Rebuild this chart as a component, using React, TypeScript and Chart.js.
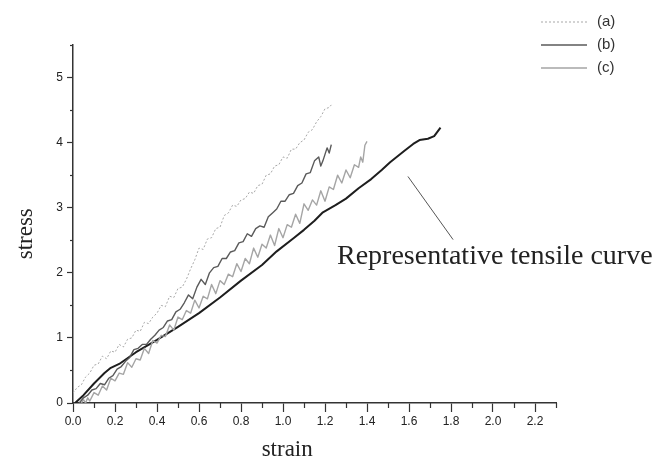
import React, { useEffect, useRef } from "react";
import { Chart, registerables } from "chart.js";

Chart.register(...registerables);

// ---- data ----
const repX = [0.01, 0.05, 0.1, 0.15, 0.18, 0.22, 0.3, 0.4, 0.5, 0.6, 0.7, 0.8, 0.9, 0.97, 1.05, 1.1, 1.15, 1.19, 1.25, 1.3, 1.36, 1.42, 1.47, 1.51, 1.58, 1.62, 1.65, 1.69, 1.72, 1.75];
const repY = [0, 0.12, 0.3, 0.46, 0.54, 0.6, 0.78, 0.97, 1.17, 1.38, 1.62, 1.88, 2.12, 2.33, 2.53, 2.66, 2.8, 2.93, 3.04, 3.14, 3.3, 3.44, 3.58, 3.7, 3.88, 3.98, 4.04, 4.06, 4.1, 4.23];

const aX = [0.0, 0.02, 0.04, 0.06, 0.08, 0.1, 0.12, 0.14, 0.16, 0.18, 0.2, 0.22, 0.24, 0.26, 0.28, 0.3, 0.32, 0.34, 0.36, 0.38, 0.4, 0.42, 0.44, 0.46, 0.48, 0.5, 0.52, 0.54, 0.56, 0.58, 0.6, 0.62, 0.64, 0.66, 0.68, 0.7, 0.72, 0.74, 0.76, 0.78, 0.8, 0.82, 0.84, 0.86, 0.88, 0.9, 0.92, 0.94, 0.96, 0.98, 1.0, 1.02, 1.04, 1.06, 1.08, 1.1, 1.12, 1.14, 1.16, 1.18, 1.2, 1.22, 1.23];
const aY = [0.15, 0.24, 0.28, 0.4, 0.46, 0.58, 0.6, 0.72, 0.68, 0.8, 0.78, 0.9, 0.86, 0.98, 1.0, 1.12, 1.1, 1.24, 1.22, 1.32, 1.38, 1.5, 1.48, 1.64, 1.62, 1.76, 1.78, 1.9, 2.06, 2.2, 2.38, 2.36, 2.52, 2.54, 2.68, 2.7, 2.88, 2.92, 3.04, 3.02, 3.12, 3.14, 3.24, 3.22, 3.34, 3.36, 3.5, 3.52, 3.64, 3.66, 3.78, 3.76, 3.9, 3.9, 4.0, 4.04, 4.16, 4.2, 4.32, 4.4, 4.52, 4.54, 4.58];

const bX = [0.03, 0.05, 0.07, 0.09, 0.11, 0.13, 0.15, 0.17, 0.19, 0.21, 0.23, 0.25, 0.27, 0.29, 0.31, 0.33, 0.35, 0.37, 0.39, 0.41, 0.43, 0.45, 0.47, 0.49, 0.51, 0.53, 0.55, 0.57, 0.59, 0.61, 0.63, 0.65, 0.67, 0.69, 0.71, 0.73, 0.75, 0.77, 0.79, 0.81, 0.83, 0.85, 0.87, 0.89, 0.91, 0.93, 0.95, 0.97, 0.99, 1.01, 1.03, 1.05, 1.07, 1.09, 1.11, 1.13, 1.15, 1.17, 1.18, 1.19, 1.2, 1.21, 1.22, 1.23];
const bY = [0.0, 0.08, 0.12, 0.2, 0.22, 0.3, 0.28, 0.38, 0.42, 0.52, 0.56, 0.64, 0.7, 0.82, 0.84, 0.9, 0.9, 0.98, 1.04, 1.12, 1.16, 1.26, 1.28, 1.4, 1.44, 1.54, 1.66, 1.6, 1.78, 1.9, 1.82, 2.0, 2.08, 2.1, 2.22, 2.22, 2.32, 2.34, 2.46, 2.48, 2.6, 2.56, 2.68, 2.72, 2.7, 2.86, 2.92, 2.98, 3.1, 3.1, 3.2, 3.22, 3.34, 3.38, 3.52, 3.54, 3.72, 3.78, 3.64, 3.72, 3.82, 3.92, 3.84, 3.97];

const cX = [0.04, 0.05, 0.06, 0.07, 0.08, 0.1, 0.12, 0.14, 0.16, 0.18, 0.2, 0.22, 0.24, 0.26, 0.28, 0.3, 0.32, 0.34, 0.36, 0.38, 0.4, 0.42, 0.44, 0.46, 0.48, 0.5, 0.52, 0.54, 0.56, 0.58, 0.6, 0.62, 0.64, 0.66, 0.68, 0.7, 0.72, 0.74, 0.76, 0.78, 0.8, 0.82, 0.84, 0.86, 0.88, 0.9, 0.92, 0.94, 0.96, 0.98, 1.0, 1.02, 1.04, 1.06, 1.08, 1.1, 1.12, 1.14, 1.16, 1.18, 1.2, 1.22, 1.24, 1.26, 1.28, 1.3, 1.32, 1.34, 1.36, 1.37, 1.38, 1.39, 1.4];
const cY = [0.0, 0.05, 0.0, 0.08, 0.03, 0.16, 0.12, 0.26, 0.2, 0.38, 0.34, 0.46, 0.44, 0.62, 0.55, 0.68, 0.66, 0.84, 0.76, 0.96, 0.92, 1.04, 1.02, 1.2, 1.12, 1.32, 1.28, 1.42, 1.38, 1.58, 1.46, 1.64, 1.6, 1.82, 1.68, 1.88, 1.82, 1.98, 1.94, 2.14, 2.02, 2.22, 2.14, 2.38, 2.24, 2.44, 2.38, 2.58, 2.42, 2.68, 2.54, 2.74, 2.7, 2.9, 2.76, 3.06, 2.96, 3.12, 3.04, 3.26, 3.1, 3.32, 3.28, 3.5, 3.38, 3.58, 3.46, 3.66, 3.62, 3.78, 3.7, 3.96, 4.02];

const seriesLabels = ["(a)", "(b)", "(c)"];
const xTickLabels = ["0.0", "0.2", "0.4", "0.6", "0.8", "1.0", "1.2", "1.4", "1.6", "1.8", "2.0", "2.2"];
const yTickLabels = ["0", "1", "2", "3", "4", "5"];
const xTitle = "strain";
const yTitle = "stress";
const noteText = "Representative tensile curve";
// leader line ends and text anchor, in data units
const noteLineFrom = [1.595, 3.48];
const noteLineTo = [1.81, 2.51];
const noteAnchor = [1.257, 2.25];

const pts = (xs: number[], ys: number[]) => xs.map((x, i) => ({ x, y: ys[i] }));

const SANS = '"Liberation Sans", Arial, sans-serif';
const SERIF = '"Liberation Serif", "Times New Roman", serif';

const decorPlugin = {
  id: "decor",
  afterDraw(chart: any) {
    const { ctx, chartArea, scales } = chart;
    const xs = scales.x;
    const ys = scales.y;
    ctx.save();
    // minor ticks
    ctx.strokeStyle = "#333";
    ctx.lineWidth = 1.2;
    xs.ticks.forEach((t: any, i: number) => {
      if (i % 2 === 1) {
        const px = Math.round(xs.getPixelForValue(t.value)) + 0.5;
        ctx.beginPath();
        ctx.moveTo(px, chartArea.bottom);
        ctx.lineTo(px, chartArea.bottom + 5);
        ctx.stroke();
      }
    });
    ys.ticks.forEach((t: any, i: number) => {
      if (i % 2 === 1) {
        const py = Math.round(ys.getPixelForValue(t.value)) + 0.5;
        ctx.beginPath();
        ctx.moveTo(chartArea.left - 3, py);
        ctx.lineTo(chartArea.left, py);
        ctx.stroke();
      }
    });
    // annotation
    ctx.strokeStyle = "#555";
    ctx.lineWidth = 1;
    ctx.beginPath();
    ctx.moveTo(xs.getPixelForValue(noteLineFrom[0]), ys.getPixelForValue(noteLineFrom[1]));
    ctx.lineTo(xs.getPixelForValue(noteLineTo[0]), ys.getPixelForValue(noteLineTo[1]));
    ctx.stroke();
    ctx.fillStyle = "#222";
    ctx.font = `28px ${SERIF}`;
    ctx.textAlign = "left";
    ctx.textBaseline = "middle";
    ctx.fillText(noteText, xs.getPixelForValue(noteAnchor[0]), ys.getPixelForValue(noteAnchor[1]));
    // axis titles
    ctx.font = `23px ${SERIF}`;
    ctx.textAlign = "center";
    ctx.fillText(xTitle, xs.getPixelForValue(1.02), chartArea.bottom + 47);
    ctx.save();
    ctx.translate(26, ys.getPixelForValue(2.6));
    ctx.rotate(-Math.PI / 2);
    ctx.fillText(yTitle, 0, 0);
    ctx.restore();
    // legend
    const legendX = chartArea.right - 15;
    chart.data.datasets.forEach((ds: any, i: number) => {
      if (!ds.label) return;
      const y = 22 + i * 23;
      ctx.strokeStyle = ds.borderColor;
      ctx.lineWidth = ds.borderWidth;
      ctx.setLineDash(ds.borderDash || []);
      ctx.beginPath();
      ctx.moveTo(legendX, y);
      ctx.lineTo(legendX + 46, y);
      ctx.stroke();
      ctx.setLineDash([]);
      ctx.fillStyle = "#333";
      ctx.font = `15px ${SANS}`;
      ctx.textAlign = "left";
      ctx.textBaseline = "middle";
      ctx.fillText(ds.label, legendX + 56, y);
    });
    ctx.restore();
  },
};

export default function App() {
  const ref = useRef<HTMLCanvasElement | null>(null);
  useEffect(() => {
    document.body.style.margin = "0";
    const canvas = ref.current;
    if (!canvas) return;
    const chart = new Chart(canvas, {
      type: "line",
      data: {
        datasets: [
          {
            label: seriesLabels[0],
            data: pts(aX, aY),
            borderColor: "#a8a8a8",
            borderWidth: 1,
            borderDash: [2, 2],
            pointRadius: 0,
            tension: 0,
          },
          {
            label: seriesLabels[1],
            data: pts(bX, bY),
            borderColor: "#5a5a5a",
            borderWidth: 1.4,
            pointRadius: 0,
            tension: 0,
          },
          {
            label: seriesLabels[2],
            data: pts(cX, cY),
            borderColor: "#a5a5a5",
            borderWidth: 1.4,
            pointRadius: 0,
            tension: 0,
          },
          {
            label: "",
            data: pts(repX, repY),
            borderColor: "#1e1e1e",
            borderWidth: 2,
            pointRadius: 0,
            tension: 0,
          },
        ],
      },
      options: {
        animation: false,
        responsive: true,
        maintainAspectRatio: false,
        layout: { padding: { top: 45, right: 97, left: 0, bottom: 0 } },
        plugins: { legend: { display: false }, tooltip: { enabled: false } },
        elements: { line: { borderJoinStyle: "round" } },
        scales: {
          x: {
            type: "linear",
            min: 0,
            max: 2.3,
            afterFit: (s: any) => {
              s.height = 62;
            },
            ticks: {
              stepSize: 0.1,
              autoSkip: false,
              maxRotation: 0,
              padding: 2,
              color: "#222",
              font: { family: SANS, size: 12 },
              callback: (_v: any, i: number) => (i % 2 === 0 ? xTickLabels[i / 2] ?? "" : ""),
            },
            grid: {
              drawOnChartArea: false,
              drawTicks: true,
              tickLength: 9,
              tickWidth: 1.2,
              tickColor: (c: any) => (c.index % 2 === 0 ? "#333" : "rgba(0,0,0,0)"),
            },
            border: { display: true, color: "#333", width: 1.5 },
          },
          y: {
            type: "linear",
            min: 0,
            max: 5.5,
            afterFit: (s: any) => {
              s.width = 73;
            },
            ticks: {
              stepSize: 0.5,
              autoSkip: false,
              padding: 4,
              color: "#222",
              font: { family: SANS, size: 12 },
              callback: (_v: any, i: number) => (i % 2 === 0 ? yTickLabels[i / 2] ?? "" : ""),
            },
            grid: {
              drawOnChartArea: false,
              drawTicks: true,
              tickLength: 6,
              tickWidth: 1.2,
              tickColor: (c: any) => (c.index % 2 === 0 ? "#333" : "rgba(0,0,0,0)"),
            },
            border: { display: true, color: "#333", width: 1.5 },
          },
        },
      },
      plugins: [decorPlugin],
    } as any);
    return () => chart.destroy();
  }, []);
  return (
    <div style={{ position: "relative", width: 653, height: 465, background: "#fff" }}>
      <canvas ref={ref} />
    </div>
  );
}
